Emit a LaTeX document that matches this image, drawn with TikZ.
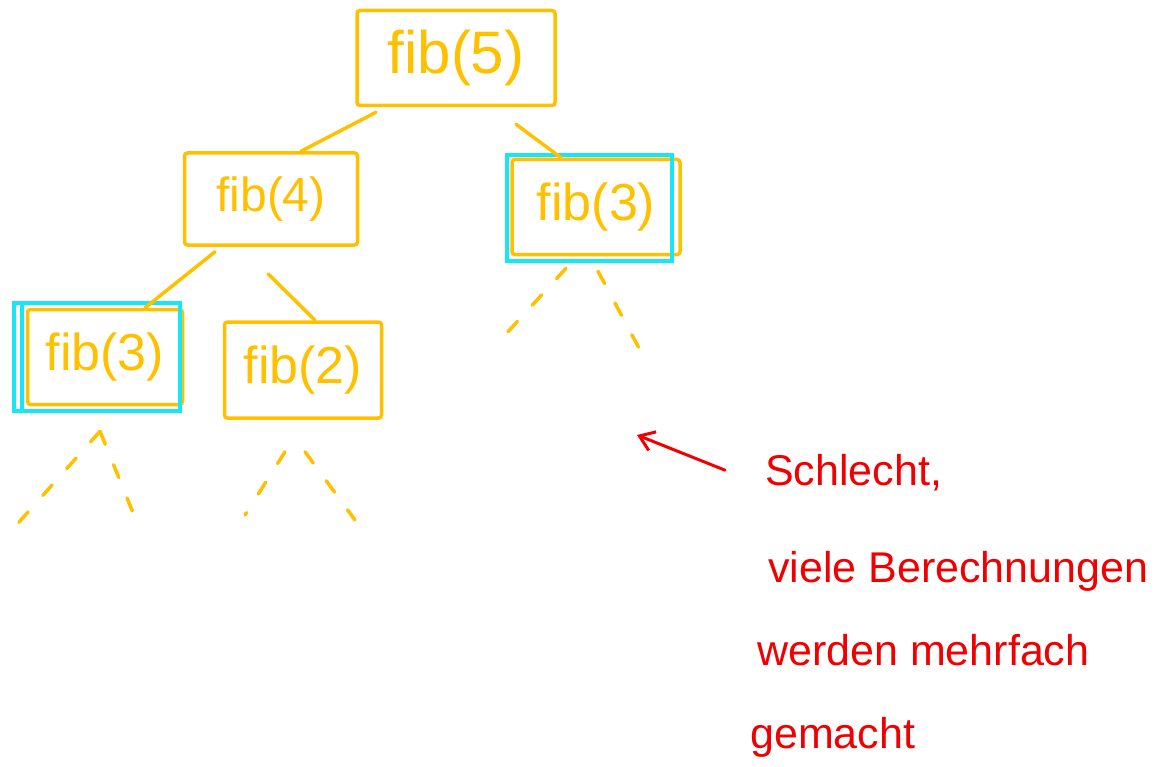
\documentclass[tikz,border=0pt]{standalone}
\usepackage{fontspec}
\setmainfont{Liberation Sans}
\usetikzlibrary{arrows.meta}
\definecolor{yel}{HTML}{FFC000}
\definecolor{cya}{HTML}{19E6F5}
\definecolor{rd}{HTML}{F00000}
\tikzset{
  fibbox/.style={draw=yel, line width=3.5pt, rounded corners=3pt, text=yel,
    font=\fontsize{52}{60}\selectfont, inner sep=0pt},
  treeline/.style={draw=yel, line width=3.5pt, line cap=round},
  dashline/.style={draw=yel, line width=3.5pt, line cap=round, dash pattern=on 14pt off 22pt},
  hilite/.style={draw=cya, line width=4pt, line cap=round},
  note/.style={text=rd, font=\fontsize{43}{50}\selectfont, anchor=base west, inner sep=0pt},
}
\begin{document}
\begin{tikzpicture}[x=1pt,y=-1pt]
\useasboundingbox (0,0) rectangle (1155,767);
% nodes
\node[fibbox, minimum width=198pt, minimum height=95pt, font=\fontsize{60}{66}\selectfont] (f5) at (456,58) {fib(5)};
\node[fibbox, minimum width=173pt, minimum height=92pt, font=\fontsize{48}{56}\selectfont] (f4) at (271,199) {fib(4)};
\node[fibbox, minimum width=168pt, minimum height=95pt] (f3r) at (596,207) {fib(3)};
\node[fibbox, minimum width=155pt, minimum height=95pt] (f3l) at (105,357) {fib(3)};
\node[fibbox, minimum width=157pt, minimum height=96pt] (f2) at (303,370) {fib(2)};
% cyan highlights
\draw[hilite] ([shift={(-3pt,3pt)}]f3r.north west) rectangle ([shift={(-10pt,-5pt)}]f3r.south east);
\draw[hilite] ([shift={(-12pt,5pt)}]f3l.north west) rectangle ([shift={(-4pt,-5pt)}]f3l.south east);
\draw[hilite] ([shift={(-4pt,4pt)}]f3l.north west) -- ([shift={(-4pt,-4pt)}]f3l.south west);
% tree edges
\draw[treeline] ([xshift=-80pt,yshift=-5pt]f5.south) -- ([xshift=30pt]f4.north);
\draw[treeline] ([xshift=60pt,yshift=-17pt]f5.south) -- ([xshift=-35pt]f3r.north);
\draw[treeline] ([xshift=-56pt,yshift=-5pt]f4.south) -- ([xshift=40pt]f3l.north);
\draw[treeline] ([xshift=-3pt,yshift=-27pt]f4.south) -- ([xshift=12pt]f2.north);
% dashed continuations
\coordinate (d1) at (505,335);
\coordinate (d2) at (640,350);
\coordinate (d3) at (12,530);
\coordinate (d4) at (138,525);
\coordinate (d5) at (245,515);
\coordinate (d6) at (355,520);
\draw[dashline] ([xshift=-30pt,yshift=-12pt]f3r.south) -- (d1);
\draw[dashline] ([xshift=2pt,yshift=-15pt]f3r.south) -- (d2);
\draw[dashline] ([xshift=-5pt,yshift=-25pt]f3l.south) -- (d3);
\draw[dashline] ([xshift=-5pt,yshift=-25pt]f3l.south) -- (d4);
\draw[dashline] ([xshift=-18pt,yshift=-32pt]f2.south) -- (d5);
\draw[dashline] ([xshift=2pt,yshift=-32pt]f2.south) -- (d6);
% red note
\node[note] (s1) at (765,485) {Schlecht,};
\node[note] (s2) at (768,582) {viele Berechnungen};
\node[note] (s3) at (757,665) {werden mehrfach};
\node[note] (s4) at (750,748) {gemacht};
\coordinate (atip) at (637,435);
\draw[rd, line width=3pt, line cap=round, -{Straight Barb[length=14pt,width=20pt]}] ([xshift=-40pt,yshift=2pt]s1.west) -- (atip);
\end{tikzpicture}
\end{document}
